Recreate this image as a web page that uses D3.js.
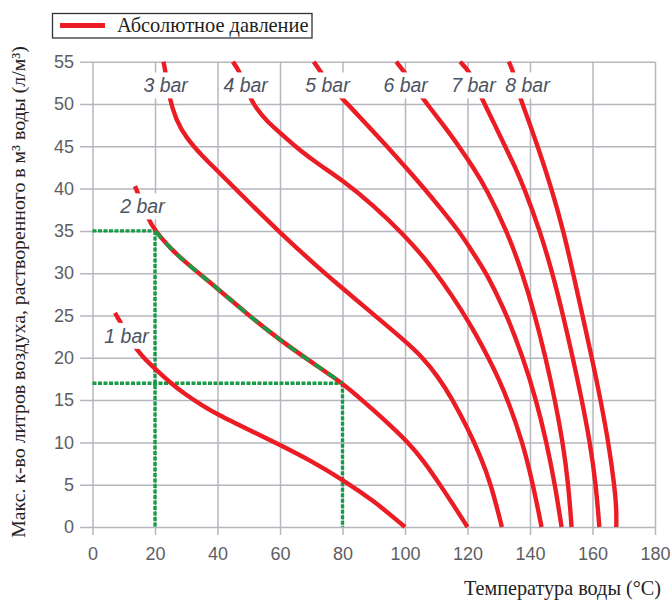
<!DOCTYPE html>
<html>
<head>
<meta charset="utf-8">
<script src="https://cdn.jsdelivr.net/npm/d3@7"></script>
<style>
  body { margin: 0; background: #fff; }
  svg { display: block; }
</style>
</head>
<body>
<div id="chart"></div>
<script>
// tick values
const tempTicks = [0, 20, 40, 60, 80, 100, 120, 140, 160, 180];
const airTicks = [0, 5, 10, 15, 20, 25, 30, 35, 40, 45, 50, 55];

// curves: [температура, литры/м3]
const bar1 = [[7.2, 25.3], [9.3, 24.0], [12.5, 21.8], [16, 20.1], [20, 18.7], [25, 17.0], [30, 15.6], [35, 14.4], [40, 13.3], [50, 11.5], [60, 9.7], [70, 7.8], [80, 5.6], [90, 3.1], [100, 0]];
const bar2 = [[13.6, 40.3], [15, 39], [17.3, 36.8], [20, 35], [25, 32.9], [30, 31.2], [40, 28.2], [50, 25], [60, 22.1], [70, 19.5], [80, 17], [85, 15.4], [90, 13.8], [95, 12.1], [101, 10], [106, 7.8], [111.2, 5], [115.5, 2.6], [120, 0]];
const bar3 = [[22.7, 55], [23.4, 53.8], [24.3, 51.1], [26.7, 48.1], [30, 46.0], [35, 43.9], [40, 42.1], [50, 38.4], [60, 34.8], [70, 31.4], [80, 28.2], [90, 25.1], [100, 22], [106, 19.9], [110.5, 17.8], [115, 15.2], [120, 11.7], [124, 8.5], [127.5, 5.1], [131, 0]];
const bar4 = [[44.9, 55], [47.2, 53.8], [49.9, 51.1], [52.5, 49.4], [56, 47.9], [60, 46.6], [66, 44.6], [73, 42.7], [80, 41], [90, 38], [100, 34.4], [106, 31.9], [112, 29], [118, 25.7], [122.5, 22.9], [126.7, 20], [130, 17.5], [133, 14.9], [137.5, 10.2], [141, 5], [143.7, 0]];
const bar5 = [[70.8, 55], [73.4, 53.6], [76, 52.2], [79, 51], [81.6, 50], [88, 47.5], [94.2, 45], [100.3, 42.5], [106.2, 40], [112, 37.4], [117.2, 35], [122, 32.3], [126, 30], [129.5, 27.4], [132.6, 25], [137.8, 20], [142, 15], [145.3, 10], [148, 5], [150.1, 0]];
const bar6 = [[97.2, 55], [100, 53.7], [104.8, 51.1], [107.1, 50], [112.3, 47.5], [117.3, 45], [122, 42.4], [126, 40], [132.6, 35], [137.6, 30], [141.6, 25], [145, 20], [148, 15], [150.5, 10], [152.3, 5], [153.3, 0]];
const bar7 = [[117.6, 55], [120.8, 53.8], [124, 51.1], [128.8, 47.5], [132, 45], [135.3, 42.5], [138.2, 40], [143.2, 35], [147.2, 30], [150.6, 25], [153.7, 20], [156.6, 15], [159.2, 10], [161.1, 5], [162.2, 0]];
const bar8 = [[133.2, 55], [134.7, 53.8], [136.5, 51.1], [137.6, 50], [142.5, 45], [146.9, 40], [150.7, 35], [153.8, 30], [156.8, 25], [159.8, 20], [162.6, 15], [165.1, 10], [167, 5], [167.7, 2], [167.6, 0]];

const curves = [bar1, bar2, bar3, bar4, bar5, bar6, bar7, bar8];
const curveNames = ["1 bar", "2 bar", "3 bar", "4 bar", "5 bar", "6 bar", "7 bar", "8 bar"];
// где стоит подпись (центр текста)
const labelAt = [[10.9, 22.6], [16, 37.9], [23.4, 52.2], [49, 52.2], [75.2, 52.2], [100.2, 52.2], [121.9, 52.2], [139.2, 52.2]];

// пример чтения: 20 °C -> 35 л/м3, 80 °C -> 17 л/м3
const readings = [[20, 35], [80, 17]];

const W = 670, H = 604;
const svg = d3.select("#chart").append("svg").attr("width", W).attr("height", H);

const x = d3.scaleLinear().domain([0, 180]).range([92.5, 655]);
const y = d3.scaleLinear().domain([0, 55]).range([527, 61.7]);

const red = "#ec1c24", green = "#179c45", grid = "#b6b6be";

// сетка + подписи осей
const yAxis = svg.append("g")
  .attr("transform", "translate(80,0)")
  .call(d3.axisLeft(y).tickValues(airTicks).tickSize(-(655 - 80)).tickPadding(6));
const xAxis = svg.append("g")
  .attr("transform", "translate(0,535)")
  .call(d3.axisBottom(x).tickValues(tempTicks).tickSize(-(535 - 61.7)).tickPadding(12));

[xAxis, yAxis].forEach((g) => {
  g.select(".domain").remove();
  g.selectAll(".tick line").attr("stroke", grid).attr("stroke-width", 1.5);
  g.selectAll(".tick text")
    .attr("fill", "#5e5e62")
    .style("font-family", "'Liberation Sans', Arial, sans-serif")
    .style("font-size", "18px");
});

const line = d3.line()
  .x((d) => x(d[0]))
  .y((d) => y(d[1]))
  .curve(d3.curveBasis);

// пунктир примера
readings.forEach((r) => {
  svg.append("path")
    .attr("d", line([[0, r[1]], [r[0], r[1]]]))
    .attr("stroke", green).attr("stroke-width", 3.4).attr("fill", "none")
    .attr("stroke-dasharray", "4,1.5");
  svg.append("path")
    .attr("d", line([[r[0], r[1]], [r[0], 0]]))
    .attr("stroke", green).attr("stroke-width", 3.4).attr("fill", "none")
    .attr("stroke-dasharray", "4,1.5");
});

svg.selectAll("path.curve")
  .data(curves)
  .enter()
  .append("path")
  .attr("class", "curve")
  .attr("d", line)
  .attr("fill", "none")
  .attr("stroke", red)
  .attr("stroke-width", 4.4)
  .attr("stroke-linecap", "butt");

// зелёный штрих по кривой 2 bar между точками
svg.append("path")
  .attr("d", line(bar2.filter((d) => d[0] >= readings[0][0] && d[0] <= readings[1][0])))
  .attr("fill", "none")
  .attr("stroke", green)
  .attr("stroke-width", 3.6)
  .attr("stroke-dasharray", "10,6");

// подписи кривых на белом фоне
curveNames.forEach((name, i) => {
  const g = svg.append("g");
  const t = g.append("text")
    .attr("x", x(labelAt[i][0]))
    .attr("y", y(labelAt[i][1]))
    .attr("dy", "0.36em")
    .attr("text-anchor", "middle")
    .style("font-family", "'Liberation Sans', Arial, sans-serif")
    .style("font-style", "italic")
    .style("font-size", "19.5px")
    .attr("fill", "#4c5462")
    .text(name);
  const b = t.node().getBBox();
  g.insert("rect", "text")
    .attr("x", b.x - 2)
    .attr("y", b.y - 2)
    .attr("width", b.width + 4)
    .attr("height", b.height + 4)
    .attr("fill", "#fff");
});

// легенда
const legend = svg.append("g");
legend.append("rect")
  .attr("x", 52.5).attr("y", 13.5).attr("width", 259.5).attr("height", 24.5)
  .attr("fill", "#fff").attr("stroke", "#333").attr("stroke-width", 1.3);
legend.append("line")
  .attr("x1", 60).attr("x2", 105).attr("y1", 25.5).attr("y2", 25.5)
  .attr("stroke", red).attr("stroke-width", 5);
legend.append("text")
  .attr("x", 117).attr("y", 32)
  .style("font-family", "'Liberation Serif', 'Times New Roman', serif")
  .style("font-size", "20.4px")
  .attr("fill", "#222")
  .text("Абсолютное давление");

// заголовки осей
svg.append("text")
  .attr("x", 661).attr("y", 595)
  .attr("text-anchor", "end")
  .style("font-family", "'Liberation Serif', 'Times New Roman', serif")
  .style("font-size", "20.2px")
  .attr("fill", "#222")
  .text("Температура воды (°C)");

svg.append("text")
  .attr("transform", "translate(25,292) rotate(-90)")
  .attr("text-anchor", "middle")
  .style("font-family", "'Liberation Serif', 'Times New Roman', serif")
  .style("font-size", "19.8px")
  .attr("fill", "#222")
  .text("Макс. к-во литров воздуха, растворенного в м³ воды (л/м³)");
</script>
</body>
</html>
